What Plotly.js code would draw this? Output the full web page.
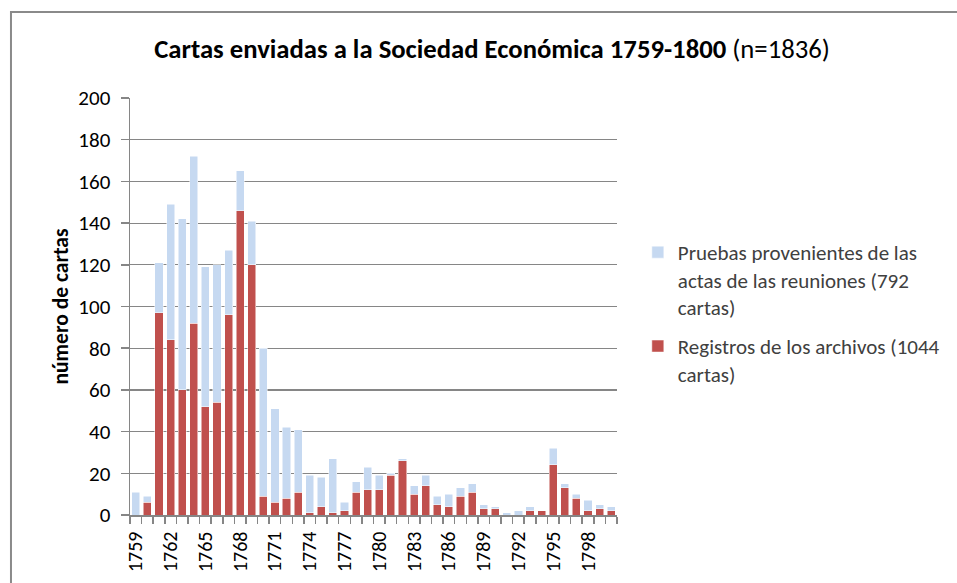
<!DOCTYPE html>
<html><head><meta charset="utf-8">
<script src="https://cdn.plot.ly/plotly-3.0.1.min.js"></script>
<style>html,body{margin:0;padding:0;background:#fff}#c{width:957px;height:583px}</style>
</head><body><div id="c"></div>
<script>
const years = [1759,1760,1761,1762,1763,1764,1765,1766,1767,1768,1769,1770,1771,1772,1773,1774,1775,1776,1777,1778,1779,1780,1781,1782,1783,1784,1785,1786,1787,1788,1789,1790,1791,1792,1793,1794,1795,1796,1797,1798,1799,1800];
const registros = [0,6,97,84,60,92,52,54,96,146,120,9,6,8,11,1,4,1,2,11,12,12,19,26,10,14,5,4,9,11,3,3,0,0,2,2,24,13,8,2,3,2];
const pruebas = [11,3,24,65,82,80,67,66,31,19,21,71,45,34,30,18,14,26,4,5,11,7,1,1,4,5,4,6,4,4,2,1,1,2,2,0,8,2,2,5,2,2];
const tickYears = [1759,1762,1765,1768,1771,1774,1777,1780,1783,1786,1789,1792,1795,1798];
const nameRed = "Registros de los archivos (1044<br>cartas)";
const nameBlue = "Pruebas provenientes de las<br>actas de las reuniones (792<br>cartas)";

const FONT = "Carlito, Calibri, 'Liberation Sans Narrow', 'Open Sans', sans-serif";
const traces = [
  {type:'bar', x: years, y: registros, name: nameRed, legendgroup:'r', legendrank:2, marker:{color:'#C0504D', line:{color:'#ffffff', width:0.5}}},
  {type:'bar', x: years, y: pruebas, name: nameBlue, legendgroup:'b', legendrank:1, marker:{color:'#C6D9F1', line:{color:'#ffffff', width:0.5}}}
];
const PW = 491, PH = 417, L = 130, T = 98;
const layout = {
  width:957, height:583,
  margin:{l:L, r:957-L-PW, t:T, b:583-T-PH},
  paper_bgcolor:'#fff', plot_bgcolor:'#fff',
  barmode:'stack', bargap:0.3,
  font:{family:FONT, size:20, color:'#000'},
  title:{text:"<b>Cartas enviadas a la Sociedad Económica 1759-1800</b> (n=1836)", x:492/957, xanchor:'center', y:1-49/583, yanchor:'middle', font:{family:FONT, size:26.7, color:'#000'}},
  xaxis:{type:'linear', range:[1758.5,1800.5], tickmode:'array', tickvals:tickYears, ticktext:tickYears.map(String),
    tickangle:-90, ticks:'outside', ticklen:7, tickcolor:'rgba(0,0,0,0)', showgrid:false, zeroline:false,
    showline:true, linecolor:'#868686', linewidth:1.5,
    minor:{tick0:1758.5, dtick:1, ticks:'outside', ticklen:7, tickcolor:'#868686', tickwidth:1.5, showgrid:false},
    tickfont:{family:FONT, size:20, color:'#000'}},
  yaxis:{range:[0,200], dtick:20, tick0:0, ticks:'outside', ticklen:8, tickcolor:'#868686', tickwidth:1.5,
    showgrid:true, gridcolor:'#868686', gridwidth:1.2, zeroline:false,
    showline:true, linecolor:'#868686', linewidth:1.5, ticklabelstandoff:6,
    tickfont:{family:FONT, size:21, color:'#000'},
    title:{text:"<b>número de cartas</b>", standoff:4, font:{family:FONT, size:21.5, color:'#000'}}},
  legend:{x:(642-L)/PW, xanchor:'left', y:(T+PH-232)/PH, yanchor:'top', traceorder:'grouped', tracegroupgap:9, valign:'top',
    font:{family:FONT, size:21, color:'#404040'}, bgcolor:'rgba(0,0,0,0)'},
  showlegend:true,
  shapes:[{type:'rect', xref:'paper', yref:'paper', x0:(10-L)/PW, x1:(975-L)/PW, y0:(T+PH-600)/PH, y1:(T+PH-12)/PH, line:{color:'#8a8a8a', width:2}, fillcolor:'rgba(0,0,0,0)', layer:'below'}]
};
Plotly.newPlot('c', traces, layout, {displayModeBar:false, staticPlot:true});
</script></body></html>
